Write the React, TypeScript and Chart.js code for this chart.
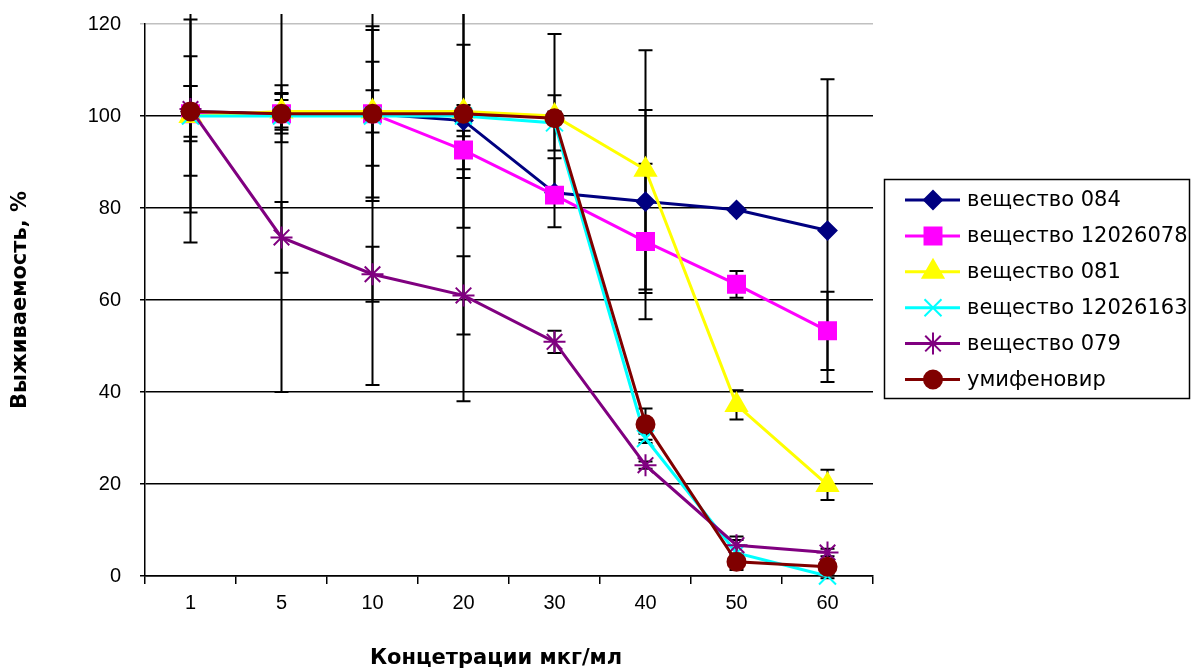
import React, { useEffect, useRef } from 'react';
import { Chart, registerables } from 'chart.js';
import { drawPoint } from 'chart.js/helpers';

Chart.register(...registerables);

const categories = ['1', '5', '10', '20', '30', '40', '50', '60'];
const yTicks = [0, 20, 40, 60, 80, 100, 120];
const xTitle = 'Концетрации мкг/мл';
const yTitle = 'Выживаемость, %';

const labels = ['вещество 084', 'вещество 12026078', 'вещество 081', 'вещество 12026163', 'вещество 079', 'умифеновир'];

const s084 = [101, 100.5, 100.5, 99, 83.3, 81.4, 79.6, 75.1];
const s12026078 = [100.5, 100.5, 100.5, 92.6, 82.8, 72.7, 63.4, 53.3];
const s081 = [100, 101, 101, 101, 100, 88.3, 37.2, 19.8];
const s12026163 = [100, 100, 100, 100, 98.5, 29.9, 5, 0];
const s079 = [101.5, 73.6, 65.6, 61, 50.9, 24.1, 6.7, 5.1];
const sUmif = [101, 100.5, 100.5, 100.5, 99.5, 33, 3.1, 2];

const e084 = [5.5, 6.2, 11.3, 3.4, 7.5, 19.9, 0.5, 32.9];
const e12026078 = [6, 4.3, 19, 4.2, 1, 16.9, 2.9, 8.5];
const e081 = [13, 4, 4.6, 14.5, 1, 26, 3.2, 3.3];
const e12026163 = [21, 60, 58.5, 62, 6, 1, 2.8, 0.5];
const e079 = [29, 7.7, 6, 8.5, 2.4, 0.8, 1.9, 0.8];
const eUmif = [0.5, 3, 18.2, 24.8, 18.3, 3.4, 1.8, 0.5];

const colors = ['#000080', '#FF00FF', '#FFFF00', '#00FFFF', '#800080', '#800000'];
const styles = ['rectRot', 'rect', 'triangle', 'crossRot', 'star', 'circle'];
const radii = [9, 12, 12, 12, 11, 9];

const seriesValues = [s084, s12026078, s081, s12026163, s079, sUmif];
const seriesErrors = [e084, e12026078, e081, e12026163, e079, eUmif];

const FONT = 'Liberation Sans, Arial, sans-serif';
const WIDE = 'DejaVu Sans, Liberation Sans, sans-serif';

const errorBarPlugin = {
  id: 'errorBars',
  beforeDatasetsDraw(chart: any) {
    const ctx = chart.ctx;
    const y = chart.scales.y;
    const area = chart.chartArea;
    ctx.save();
    ctx.beginPath();
    ctx.rect(area.left - 20, area.top - 10, area.right - area.left + 40, area.bottom - area.top + 30);
    ctx.clip();
    ctx.strokeStyle = '#000';
    ctx.lineWidth = 2;
    chart.data.datasets.forEach((ds: any, i: number) => {
      const meta = chart.getDatasetMeta(i);
      const errs = seriesErrors[ds.seriesIndex];
      ds.data.forEach((v: number, j: number) => {
        const e = errs[j];
        const pt = meta.data[j];
        const x = pt.x;
        const yt = y.getPixelForValue(v + e);
        const yb = y.getPixelForValue(v - e);
        ctx.beginPath();
        ctx.moveTo(x, yt);
        ctx.lineTo(x, yb);
        ctx.moveTo(x - 7, yt);
        ctx.lineTo(x + 7, yt);
        ctx.moveTo(x - 7, yb);
        ctx.lineTo(x + 7, yb);
        ctx.stroke();
      });
    });
    ctx.restore();
  },
};

const legendPlugin = {
  id: 'customLegend',
  afterDraw(chart: any) {
    const ctx = chart.ctx;
    ctx.save();
    // x-axis title
    ctx.font = 'bold 21px ' + WIDE;
    ctx.fillStyle = '#000';
    ctx.textAlign = 'center';
    ctx.textBaseline = 'middle';
    ctx.fillText(xTitle, 496, 659);
    // legend
    ctx.textAlign = 'left';
    ctx.strokeStyle = '#000';
    ctx.lineWidth = 1.5;
    ctx.strokeRect(884.5, 179.5, 305, 219);
    ctx.font = '21px ' + WIDE;
    const y0 = 200;
    const step = 35.9;
    labels.forEach((lab, i) => {
      const yy = y0 + i * step;
      ctx.strokeStyle = colors[i];
      ctx.lineWidth = 3;
      ctx.beginPath();
      ctx.moveTo(905, yy);
      ctx.lineTo(960, yy);
      ctx.stroke();
      ctx.fillStyle = colors[i];
      ctx.strokeStyle = colors[i];
      ctx.lineWidth = 2;
      drawPoint(ctx, {
        pointStyle: styles[i],
        radius: radii[i],
        rotation: 0,
        borderWidth: 2,
      } as any, 933, yy);
      ctx.fillStyle = '#000';
      ctx.fillText(lab, 967, yy + 1);
    });
    ctx.restore();
  },
};

export default function App() {
  const ref = useRef<HTMLCanvasElement>(null);
  useEffect(() => {
    document.body.style.margin = '0';
    const datasets = seriesValues.map((vals, i) => ({
      label: labels[i],
      seriesIndex: i,
      data: vals,
      borderColor: colors[i],
      backgroundColor: colors[i],
      borderWidth: 3,
      pointStyle: styles[i],
      pointRadius: radii[i],
      pointBorderWidth: 2,
      pointBackgroundColor: colors[i],
      pointBorderColor: colors[i],
      tension: 0,
      clip: false as any,
      order: 5 - i,
    }));
    const chart = new Chart(ref.current!, {
      type: 'line',
      data: { labels: categories, datasets: datasets as any },
      options: {
        animation: false,
        responsive: false,
        maintainAspectRatio: false,
        layout: { padding: { top: 24, right: 322, left: 0, bottom: 0 } },
        plugins: { legend: { display: false }, tooltip: { enabled: false } },
        scales: {
          x: {
            offset: true,
            grid: {
              offset: true,
              drawOnChartArea: false,
              drawTicks: true,
              tickLength: 8,
              color: '#000',
              lineWidth: 1.5,
            },
            border: { color: '#000', width: 1.5 },
            ticks: { color: '#000', font: { family: FONT, size: 20 }, padding: 7, maxRotation: 0 },
            title: { display: false },
            afterFit: (s: any) => { s.height = 92; s.paddingLeft = 0; s.paddingRight = 0; },
          },
          y: {
            min: 0,
            max: 120,
            afterBuildTicks: (s: any) => { s.ticks = yTicks.map((v) => ({ value: v })); },
            grid: {
              color: (c: any) => (c.tick && c.tick.value === 120 ? '#c0c0c0' : '#000'),
              lineWidth: 1.5,
              tickLength: 5,
            },
            border: { color: '#000', width: 1.5 },
            ticks: { color: '#000', font: { family: FONT, size: 20 }, padding: 19 },
            title: {
              display: true,
              text: yTitle,
              color: '#000',
              font: { family: WIDE, size: 21, weight: 'bold', lineHeight: 1.1 },
              padding: { top: 9, bottom: 0 },
            },
            afterFit: (s: any) => { s.width = 145; s.paddingTop = 0; s.paddingBottom = 0; },
          },
        },
      },
      plugins: [errorBarPlugin, legendPlugin],
    });
    return () => chart.destroy();
  }, []);
  return (
    <div style={{ position: 'fixed', left: 0, top: 0, width: 1195, height: 668, background: '#fff' }}>
      <canvas ref={ref} width={1195} height={668} style={{ width: 1195, height: 668 }} />
    </div>
  );
}
